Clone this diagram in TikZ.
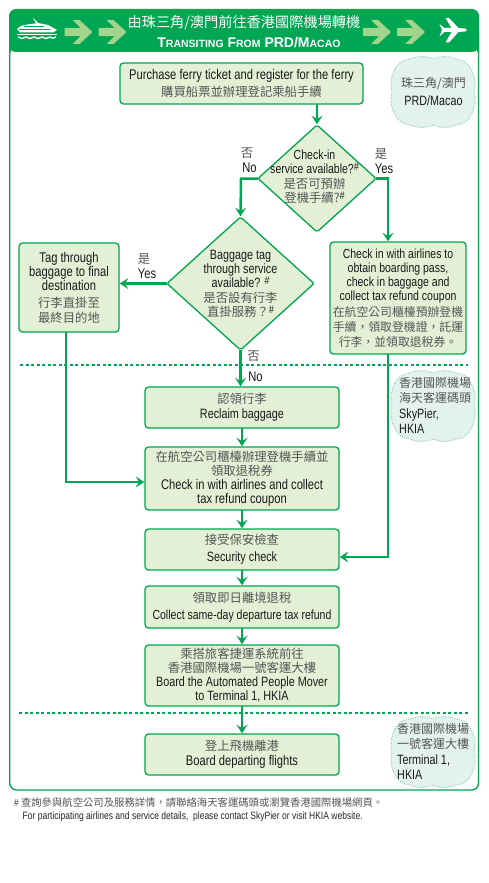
\documentclass[tikz,border=0pt]{standalone}
\usepackage{fontspec}
\usetikzlibrary{arrows.meta,shapes.geometric}
\setmainfont{Liberation Sans}[FakeStretch=0.8]
\newfontfamily\cjk{Noto Sans CJK TC}
\newfontfamily\titlefont{Liberation Sans}
\definecolor{gr}{HTML}{00A651}
\definecolor{boxf}{HTML}{E4F0D6}
\definecolor{harrow}{HTML}{A3D48B}
\definecolor{cloudf}{HTML}{E4F2EF}
\definecolor{cloudl}{HTML}{86C9A2}
\definecolor{cjkc}{HTML}{555555}
\newcommand{\zh}[1]{{\fontsize{12.35}{14}\selectfont\cjk\color{cjkc}#1}}
\newcommand{\zhs}[1]{{\fontsize{11.85}{14}\selectfont\cjk\color{cjkc}#1}}
\newcommand{\zhc}[1]{{\fontsize{12}{14}\selectfont\cjk\color{cjkc}#1}}
\newcommand{\shp}{\raisebox{3.5pt}{\fontsize{11}{11}\selectfont\itshape\#}}
\newcommand{\bigc}[1]{{\fontsize{14}{15}\selectfont #1}}
\newcommand{\smc}[1]{{\fontsize{10.5}{15}\selectfont #1}}
\newcommand{\harrowat}[2]{\fill[harrow,shift={(#1,#2)}] (0,-4.2) -- (16,-4.2) -- (8,-12) -- (15,-12) -- (28,0) -- (15,12) -- (8,12) -- (16,4.2) -- (0,4.2) -- cycle;}
\newcommand{\cloudat}[2]{\draw[cloudst,shift={(#1,#2)}] (3,12) to[bend left=28] (18,2) to[bend left=22] (41,2) to[bend left=22] (64,2) to[bend left=28] (79,12) to[bend left=20] (82,35) to[bend left=20] (79,58) to[bend left=28] (64,68) to[bend left=22] (41,68) to[bend left=22] (18,68) to[bend left=28] (3,58) to[bend left=20] (0,35) to[bend left=20] cycle;}
\tikzset{
  boxst/.style={draw=gr,fill=boxf,line width=1.3,rounded corners=3.5,minimum width=#1,inner sep=0,outer sep=0,align=center,text=black!90},
  dia/.style={diamond,draw=gr,fill=boxf,line width=1.3,rounded corners=2,inner sep=0,outer sep=0},
  fa/.style={font=\fontsize{14}{14}\selectfont},
  fb/.style={font=\fontsize{13.5}{14}\selectfont},
  fc/.style={font=\fontsize{13.15}{14}\selectfont},
  txt/.style={align=center,inner sep=0,text=black!90},
  lab/.style={inner sep=0,text=black!90,font=\fontsize{14}{14}\selectfont},
  conn/.style={draw=gr,line width=2.5,-{Stealth[length=8.5,width=11,inset=3.5]},shorten >=0.8},
  sepline/.style={draw=gr,line width=1.6,dash pattern=on 3.4 off 2.1},
  cloudst/.style={fill=cloudf,draw=cloudl,line width=1,dash pattern=on 0.9 off 1.5},
}
\begin{document}
\begin{tikzpicture}[x=1pt,y=-1pt]
\useasboundingbox (0,0) rectangle (488,883);
\fill[white] (0,0) rectangle (488,883);
% frame and header
\draw[gr,line width=1.4,rounded corners=7] (9.7,45) -- (9.7,790) -- (478.5,790) -- (478.5,45);
\fill[gr,rounded corners=7] (9,52) -- (9,9) -- (479,9) -- (479,52) -- cycle;
\fill[gr] (9,30) rectangle (11,52) (477,30) rectangle (479,52);
\node[inner sep=0,text=white] (title) at (244,22.5) {\fontsize{14.2}{16}\cjk 由珠三角/澳門前往香港國際機場轉機};
\node[inner sep=0,text=white,font=\fontsize{14}{16}\titlefont\bfseries] (title2) at (249,42.5) {\bigc{T}\smc{RANSITING} \bigc{F}\smc{ROM} PRD/\bigc{M}\smc{ACAO}};
\harrowat{64.5}{32}\harrowat{98.5}{32}\harrowat{363}{32}\harrowat{397}{32}
% boat
\fill[white] (33,18) -- (38,23) -- (48,25) -- (57,30) -- (53,32.5) -- (20,32.5) -- (17,29) -- (21,26) -- (30,24) -- (36,23.5) -- cycle;
\draw[gr,line width=.8] (19,29) -- (50,29) (24,26.5) -- (44,26.5);
\draw[white,line width=1.4] (17,34.5) -- (57,34.5);
\draw[white,line width=1.4] (18,37) to[bend right=40] (26,37) to[bend right=40] (34,37) to[bend right=40] (42,37) to[bend right=40] (50,37) to[bend right=40] (56,37);
% plane
\fill[white] (445.5,18) -- (449,18) -- (458.5,28) -- (465,28.5) -- (467,30) -- (465,31.5) -- (458.5,32) -- (449,42.5) -- (445.5,42.5) -- (451.5,32) -- (444.5,32) -- (439.5,36.5) -- (442,30) -- (439.5,24) -- (444.5,28) -- (451.5,28) -- cycle;
% clouds
\cloudat{392}{57}
\cloudat{392}{371}
\cloudat{392}{717}
\node[txt,fb] (c1) at (433.5,92) {\zhc{珠三角/澳門}\\[4pt]PRD/Macao};
\node[txt,fb,align=left,anchor=west] (c2) at (399,405.5) {\zhc{香港國際機場}\\[1pt]\zhc{海天客運碼頭}\\[1.5pt]SkyPier,\\[1.5pt]HKIA};
\node[txt,fb,align=left,anchor=west] (c3) at (397,751.5) {\zhc{香港國際機場}\\[1pt]\zhc{一號客運大樓}\\[1.5pt]Terminal 1,\\[1.5pt]HKIA};
% dashed separators
\coordinate (da) at (20,365); \coordinate (db) at (468,365);
\coordinate (dc) at (19,713); \coordinate (dd) at (469,713);
\draw[sepline] (da) -- (db);
\draw[sepline] (dc) -- (dd);
% boxes
\node[boxst=243,minimum height=41,fa] (top) at (241.5,83.5) {Purchase ferry ticket and register for the ferry\\[3.5pt]\zh{購買船票並辦理登記乘船手續}};
\node[dia,minimum width=118,minimum height=107] (d1) at (317,178.5) {};
\node[txt,fc] (d1t) at (314.5,177) {Check-in\\service available?\shp\\[.5pt]\zh{是否可預辦}\\[.5pt]\zh{登機手續?}\shp};
\node[dia,minimum width=147,minimum height=133] (d2) at (240.5,283.5) {};
\node[txt,fb] (d2t) at (240.5,284) {Baggage tag\\through service\\available? \shp\\[.5pt]\zh{是否設有行李}\\[.5pt]\zh{直掛服務？}\shp};
\node[boxst=100,minimum height=89,fa] (left) at (69,287.5) {Tag through\\baggage to final\\destination\\[3pt]\zh{行李直掛至}\\[1pt]\zh{最終目的地}};
\node[boxst=136,minimum height=112,fc] (right) at (398,298) {Check in with airlines to\\obtain boarding pass,\\check in baggage and\\collect tax refund coupon\\[2pt]\zhs{在航空公司櫃檯預辦登機}\\[1pt]\zhs{手續，領取登機證，託運}\\[1pt]\zhs{行李，並領取退稅券。}};
\node[boxst=194,minimum height=41,fb] (rec) at (242,407.5) {\zh{認領行李}\\[1pt]Reclaim baggage};
\node[boxst=194,minimum height=63,fa] (chk) at (242,478.5) {\zh{在航空公司櫃檯辦理登機手續並}\\\zh{領取退稅券}\\Check in with airlines and collect\\tax refund coupon};
\node[boxst=194,minimum height=41,fb] (sec) at (242,549.5) {\zh{接受保安檢查}\\[2.7pt]Security check};
\node[boxst=194,minimum height=42,fc] (col) at (242,607) {\zh{領取即日離境退稅}\\[2.3pt]Collect same-day departure tax refund};
\node[boxst=194,minimum height=61,fb] (apm) at (242,675.5) {\zh{乘搭旅客捷運系統前往}\\\zh{香港國際機場一號客運大樓}\\Board the Automated People Mover\\to Terminal 1, HKIA};
\node[boxst=194,minimum height=41,fa] (dep) at (242,754.5) {\zh{登上飛機離港}\\[1pt]Board departing flights};
% labels
\node[lab] (n1a) at (247,153) {\zh{否}};
\node[lab] (n1b) at (249.5,168) {No};
\node[lab] (y1a) at (381,154) {\zh{是}};
\node[lab] (y1b) at (384,169) {Yes};
\node[lab] (y2a) at (144,259) {\zh{是}};
\node[lab] (y2b) at (147,274) {Yes};
\node[lab] (n2a) at (253.5,356.5) {\zh{否}};
\node[lab] (n2b) at (255.5,376.5) {No};
% footnote
\node[inner sep=0,anchor=west,font=\fontsize{10.35}{12}\selectfont,text=black!80] (fn1) at (14,802.5) {\#\hspace{2.2pt}{\cjk\color{cjkc}查詢參與航空公司及服務詳情，請聯絡海天客運碼頭或瀏覽香港國際機場網頁。}};
\node[inner sep=0,anchor=west,font=\fontsize{10.65}{12}\selectfont,text=black!85] (fn2) at (22.5,817) {For participating airlines and service details,\ \ please contact SkyPier or visit HKIA website.};
% connectors
\coordinate (e1) at (241,178.5);
\coordinate (e2) at (388,178.5);
\coordinate (e3) at (66,482);
\coordinate (e4) at (388,557);
\draw[conn] (top.south -| d1.north) -- (d1.north);
\draw[conn] (d1.west) -- (d1.west -| e1) -- (d2.north);
\draw[conn] (d1.east) -- (e2) -- (e2 |- right.north);
\draw[conn] (d2.west) -- (left.east |- d2.west);
\draw[conn] (d2.south) -- (rec.north -| d2.south);
\draw[conn] (e3 |- left.south) -- (e3) -- (chk.west |- e3);
\draw[conn] (e4 |- right.south) -- (e4) -- (sec.east |- e4);
\draw[conn] (rec.south) -- (chk.north);
\draw[conn] (chk.south) -- (sec.north);
\draw[conn] (sec.south) -- (col.north);
\draw[conn] (col.south) -- (apm.north);
\draw[conn] (apm.south) -- (dep.north);
\end{tikzpicture}
\end{document}
